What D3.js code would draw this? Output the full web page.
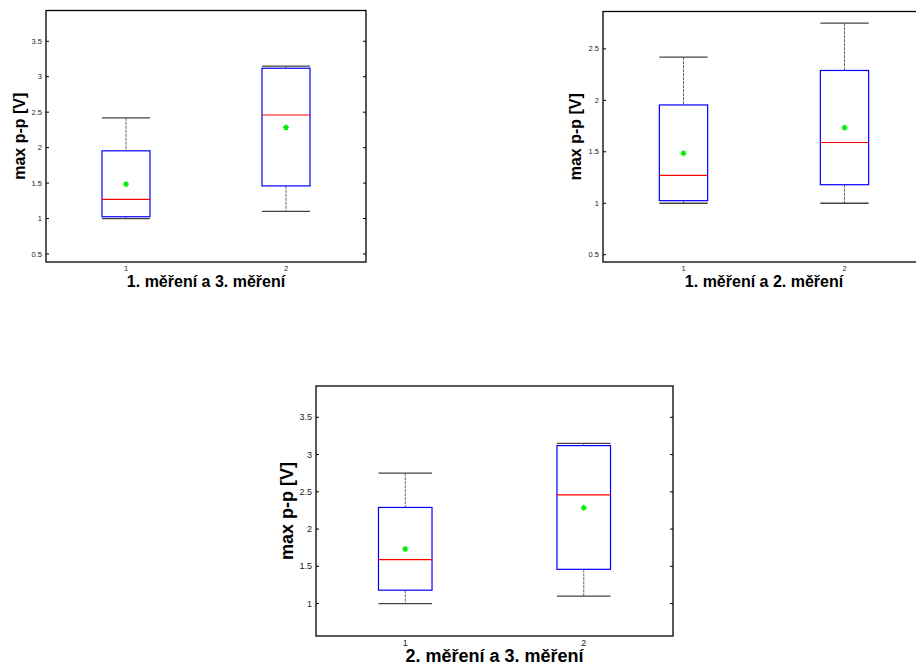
<!DOCTYPE html>
<html>
<head>
<meta charset="utf-8">
<script src="https://cdn.jsdelivr.net/npm/d3@7"></script>
<style>
  body { margin: 0; background: #fff; }
  text { font-family: Arial, "Liberation Sans", sans-serif; }
</style>
</head>
<body>
<svg id="chart" width="916" height="666"></svg>
<script>
const measurements = ['1. měření', '2. měření', '3. měření'];
const whiskerLow  = [1.00, 1.00, 1.10];
const q1          = [1.025, 1.18, 1.46];
const median      = [1.27, 1.59, 2.46];
const q3          = [1.955, 2.29, 3.12];
const whiskerHigh = [2.42, 2.75, 3.15];
const means       = [1.485, 1.733, 2.285];

// which two measurements each panel compares
const panelPairs = [[0, 2], [0, 1], [1, 2]];
const xTickLabels = ['1', '2'];
const yTicks = [
  [0.5, 1, 1.5, 2, 2.5, 3, 3.5],
  [0.5, 1, 1.5, 2, 2.5],
  [1, 1.5, 2, 2.5, 3, 3.5]
];
const yLimits = [[0.387, 3.934], [0.429, 2.863], [0.565, 3.92]];
const yLabel = 'max p-p [V]';

// panel layout
const panels = [
  { left: 46, top: 10.5, width: 320, height: 251.5, labelFont: 16, tickFont: 7.5, ylabX: 19, xlabY: 287, xtickY: 271 },
  { left: 603, top: 11.5, width: 322, height: 250.5, labelFont: 16, tickFont: 7.5, ylabX: 575, xlabY: 287, xtickY: 271 },
  { left: 316, top: 386, width: 357, height: 250, labelFont: 18, tickFont: 9, ylabX: 287, xlabY: 662, xtickY: 646 }
];

const svg = d3.select('#chart');

panels.forEach((p, i) => {
  const pair = panelPairs[i];
  const g = svg.append('g');

  const x = d3.scaleLinear().domain([0.5, 2.5]).range([p.left, p.left + p.width]);
  const y = d3.scaleLinear().domain(yLimits[i]).range([p.top + p.height, p.top]);

  const boxW = x(1.3) - x(1);
  const capW = x(1.15) - x(1);

  const stats = pair.map((m, k) => ({
    pos: k + 1,
    lo: whiskerLow[m], q1: q1[m], med: median[m], q3: q3[m], hi: whiskerHigh[m], mean: means[m]
  }));

  // axes frame
  g.append('rect')
    .attr('x', p.left).attr('y', p.top)
    .attr('width', p.width).attr('height', p.height)
    .attr('fill', 'none').attr('stroke', '#000').attr('stroke-width', 1.3);

  // y ticks (inward, both sides)
  yTicks[i].forEach(t => {
    const yy = y(t);
    g.append('line').attr('x1', p.left).attr('x2', p.left + 3).attr('y1', yy).attr('y2', yy)
      .attr('stroke', '#000');
    g.append('line').attr('x1', p.left + p.width).attr('x2', p.left + p.width - 3).attr('y1', yy).attr('y2', yy)
      .attr('stroke', '#000');
    g.append('text')
      .attr('x', p.left - 4).attr('y', yy)
      .attr('dy', '0.35em')
      .attr('text-anchor', 'end')
      .attr('font-size', p.tickFont)
      .attr('fill', '#222')
      .text(d3.format('~g')(t));
  });

  // x tick labels
  xTickLabels.forEach((lab, k) => {
    g.append('text')
      .attr('x', x(k + 1)).attr('y', p.xtickY)
      .attr('text-anchor', 'middle')
      .attr('font-size', p.tickFont)
      .attr('fill', '#222')
      .text(lab);
  });

  // whiskers
  g.selectAll('.whisker')
    .data(stats)
    .join('g')
    .each(function (d) {
      const w = d3.select(this);
      w.append('line').attr('x1', x(d.pos)).attr('x2', x(d.pos))
        .attr('y1', y(d.hi)).attr('y2', y(d.q3))
        .attr('stroke', '#666').attr('stroke-dasharray', '3,1');
      w.append('line').attr('x1', x(d.pos)).attr('x2', x(d.pos))
        .attr('y1', y(d.q1)).attr('y2', y(d.lo))
        .attr('stroke', '#666').attr('stroke-dasharray', '3,1');
      w.append('line').attr('x1', x(d.pos) - capW).attr('x2', x(d.pos) + capW)
        .attr('y1', y(d.hi)).attr('y2', y(d.hi))
        .attr('stroke', '#444').attr('stroke-width', 1.3);
      w.append('line').attr('x1', x(d.pos) - capW).attr('x2', x(d.pos) + capW)
        .attr('y1', y(d.lo)).attr('y2', y(d.lo))
        .attr('stroke', '#444').attr('stroke-width', 1.3);
    });

  // boxes
  g.selectAll('.box')
    .data(stats)
    .join('rect')
    .attr('x', d => x(d.pos) - boxW / 2)
    .attr('y', d => y(d.q3))
    .attr('width', boxW)
    .attr('height', d => y(d.q1) - y(d.q3))
    .attr('fill', 'none')
    .attr('stroke', '#0000ff')
    .attr('stroke-width', 1.2);

  // medians
  g.selectAll('.median')
    .data(stats)
    .join('line')
    .attr('x1', d => x(d.pos) - boxW / 2)
    .attr('x2', d => x(d.pos) + boxW / 2)
    .attr('y1', d => y(d.med))
    .attr('y2', d => y(d.med))
    .attr('stroke', '#ff0000')
    .attr('stroke-width', 1.2);

  // means (green asterisk)
  g.selectAll('.mean')
    .data(stats)
    .join('path')
    .attr('transform', d => `translate(${x(d.pos)},${y(d.mean)})`)
    .attr('d', 'M-3,0H3M0,-3V3M-2,-2L2,2M-2,2L2,-2')
    .attr('stroke', '#00ee00')
    .attr('stroke-width', 1.3)
    .attr('fill', 'none');

  // labels
  g.append('text')
    .attr('transform', `translate(${p.ylabX},${p.top + p.height / 2}) rotate(-90)`)
    .attr('text-anchor', 'middle')
    .attr('dy', '0.35em')
    .attr('font-size', p.labelFont)
    .attr('font-weight', 'bold')
    .text(yLabel);

  g.append('text')
    .attr('x', p.left + p.width / 2)
    .attr('y', p.xlabY)
    .attr('text-anchor', 'middle')
    .attr('font-size', p.labelFont)
    .attr('font-weight', 'bold')
    .text(`${measurements[pair[0]]} a ${measurements[pair[1]]}`);
});
</script>
</body>
</html>
